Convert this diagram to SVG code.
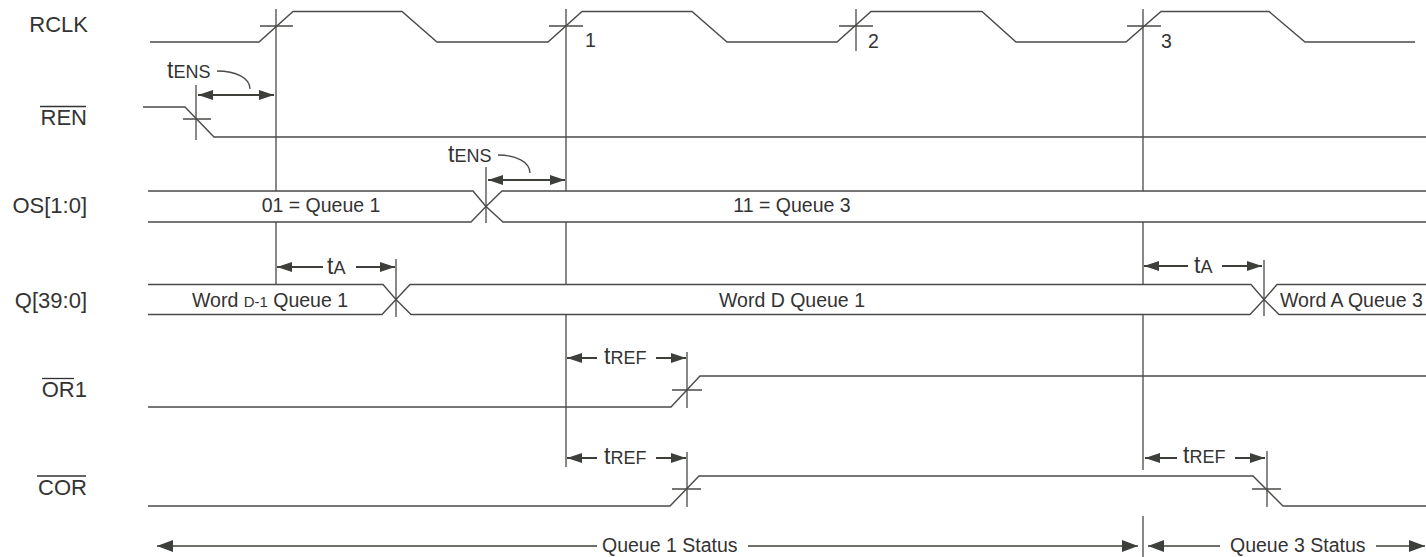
<svg xmlns="http://www.w3.org/2000/svg" width="1426" height="557" viewBox="0 0 1426 557">
<style>
.sig{fill:none;stroke:#4a4a48;stroke-width:1.4;stroke-linejoin:miter}
.ref{fill:none;stroke:#4a4a48;stroke-width:1.3}
.dim{fill:none;stroke:#3d3f3a;stroke-width:2}
.st{fill:none;stroke:#3d3f3a;stroke-width:1.4}
.lbl{font-family:"Liberation Sans",Arial,sans-serif;font-size:22px;fill:#333;text-anchor:end}
.txt{font-family:"Liberation Sans",Arial,sans-serif;font-size:19.5px;fill:#333}
.big{font-size:23px}
.sm{font-size:18px}
.xs{font-size:15px}
.ol{stroke:#333;stroke-width:1.3}
</style>
<defs>
<marker id="ah" markerUnits="userSpaceOnUse" markerWidth="15" markerHeight="10" refX="15" refY="5" orient="auto-start-reverse"><path d="M0,0 L15,5 L0,10 z" fill="#3d3f3a"/></marker>
<marker id="ahb" markerUnits="userSpaceOnUse" markerWidth="16" markerHeight="12" refX="16" refY="6" orient="auto-start-reverse"><path d="M0,0 L16,6 L0,12 z" fill="#3d3f3a"/></marker>
</defs>

<g id="labels">
<text class="lbl" x="88" y="32">RCLK</text>
<text class="lbl" x="87" y="125">REN</text>
<line class="ol" x1="40" y1="106.5" x2="86" y2="106.5"/>
<text class="lbl" x="87" y="213">OS[1:0]</text>
<text class="lbl" x="87" y="308">Q[39:0]</text>
<text class="lbl" x="87" y="397">OR1</text>
<line class="ol" x1="42" y1="378.5" x2="74" y2="378.5"/>
<text class="lbl" x="87" y="495">COR</text>
<line class="ol" x1="37" y1="476" x2="86" y2="476"/>
</g>

<g id="rclk">
<path class="sig" d="M150,42 H259 L293,11.5 H402 L437,42 H548 L582,11.5 H692 L727,42 H837 L871,11.5 H982 L1016,42 H1126 L1161,11.5 H1269 L1305,42 H1415"/>
<path class="ref" d="M260,26 H293 M549,26 H583 M839,26 H873 M1127,26 H1161"/>
<text class="txt" x="585" y="47">1</text>
<text class="txt" x="868" y="48">2</text>
<text class="txt" x="1161" y="48">3</text>
</g>

<g id="ren">
<path class="sig" d="M143,107 H185 L214,137 H1426"/>
<path class="ref" d="M196,85 V140 M183,119 H211"/>
</g>

<g id="os">
<path class="sig" d="M148,191 H473 L486,206.5 L471,222 H148"/>
<path class="sig" d="M1426,191 H502 L486,206.5 L503,222 H1426"/>
<path class="ref" d="M486,167 V223"/>
<text class="txt" x="321" y="212" text-anchor="middle">01 = Queue 1</text>
<text class="txt" x="792" y="212" text-anchor="middle">11 = Queue 3</text>
</g>

<g id="q">
<path class="sig" d="M148,284.5 H383 L396,299.5 L382,314.5 H148"/>
<path class="sig" d="M396,299.5 L410,284.5 H1251 L1264,299.5 L1250,314.5 H411 Z"/>
<path class="sig" d="M1426,284.5 H1277 L1264,299.5 L1279,314.5 H1426"/>
<path class="ref" d="M396,259 V317 M1264,260 V316"/>
<text class="txt" x="192" y="307">Word <tspan class="xs">D-1</tspan> Queue 1</text>
<text class="txt" x="792" y="307" text-anchor="middle">Word D Queue 1</text>
<text class="txt" x="1280" y="307">Word A Queue 3</text>
</g>

<g id="or1">
<path class="sig" d="M148,407 H671 L700,376 H1426"/>
<path class="ref" d="M687,352 V408 M672,390 H702"/>
</g>

<g id="cor">
<path class="sig" d="M148,506 H670 L699,476 H1253 L1283,506 H1426"/>
<path class="ref" d="M687,452 V507 M672,489 H701 M1267,451 V507 M1252,489 H1281"/>
</g>

<g id="connectors">
<path class="ref" d="M276,9 V191 M276,222 V284.5"/>
<path class="ref" d="M566,9 V191 M566,222 V284.5 M566,314.5 V467"/>
<path class="ref" d="M856,9 V51"/>
<path class="ref" d="M1143,9 V191 M1143,222 V284.5 M1143,314.5 V470 M1143,516 V557"/>
<line class="dim" x1="198" y1="95" x2="274" y2="95" marker-start="url(#ah)" marker-end="url(#ah)"/>
<path class="ref" d="M217,71 C236,71 250,78 250,89"/>
<line class="dim" x1="488" y1="180" x2="565" y2="180" marker-start="url(#ah)" marker-end="url(#ah)"/>
<path class="ref" d="M498,155 C516,155 530,162 530,173"/>
<line class="dim" x1="277" y1="267" x2="323" y2="267" marker-start="url(#ah)"/>
<line class="dim" x1="356" y1="267" x2="395" y2="267" marker-end="url(#ah)"/>
<line class="dim" x1="1144" y1="266" x2="1188" y2="266" marker-start="url(#ah)"/>
<line class="dim" x1="1222" y1="266" x2="1262" y2="266" marker-end="url(#ah)"/>
<line class="dim" x1="567" y1="358" x2="597" y2="358" marker-start="url(#ah)"/>
<line class="dim" x1="656" y1="358" x2="686" y2="358" marker-end="url(#ah)"/>
<line class="dim" x1="567" y1="458" x2="597" y2="458" marker-start="url(#ah)"/>
<line class="dim" x1="656" y1="458" x2="686" y2="458" marker-end="url(#ah)"/>
<line class="dim" x1="1145" y1="458" x2="1177" y2="458" marker-start="url(#ah)"/>
<line class="dim" x1="1235" y1="458" x2="1265" y2="458" marker-end="url(#ah)"/>
<line class="st" x1="157" y1="546" x2="597" y2="546" marker-start="url(#ahb)"/>
<line class="st" x1="748" y1="546" x2="1138" y2="546" marker-end="url(#ahb)"/>
<line class="st" x1="1148" y1="546" x2="1220" y2="546" marker-start="url(#ahb)"/>
<line class="st" x1="1376" y1="546" x2="1425" y2="546" marker-end="url(#ahb)"/>
<text class="txt" x="167" y="78"><tspan class="big">t</tspan><tspan class="sm">ENS</tspan></text>
<text class="txt" x="448" y="162"><tspan class="big">t</tspan><tspan class="sm">ENS</tspan></text>
<text class="txt" x="327" y="274"><tspan class="big">t</tspan><tspan class="sm">A</tspan></text>
<text class="txt" x="1194" y="273"><tspan class="big">t</tspan><tspan class="sm">A</tspan></text>
<text class="txt" x="604" y="364"><tspan class="big">t</tspan><tspan class="sm">REF</tspan></text>
<text class="txt" x="604" y="464"><tspan class="big">t</tspan><tspan class="sm">REF</tspan></text>
<text class="txt" x="1183" y="463"><tspan class="big">t</tspan><tspan class="sm">REF</tspan></text>
<text class="txt" x="602" y="552">Queue 1 Status</text>
<text class="txt" x="1230" y="552">Queue 3 Status</text>
</g>
</svg>
